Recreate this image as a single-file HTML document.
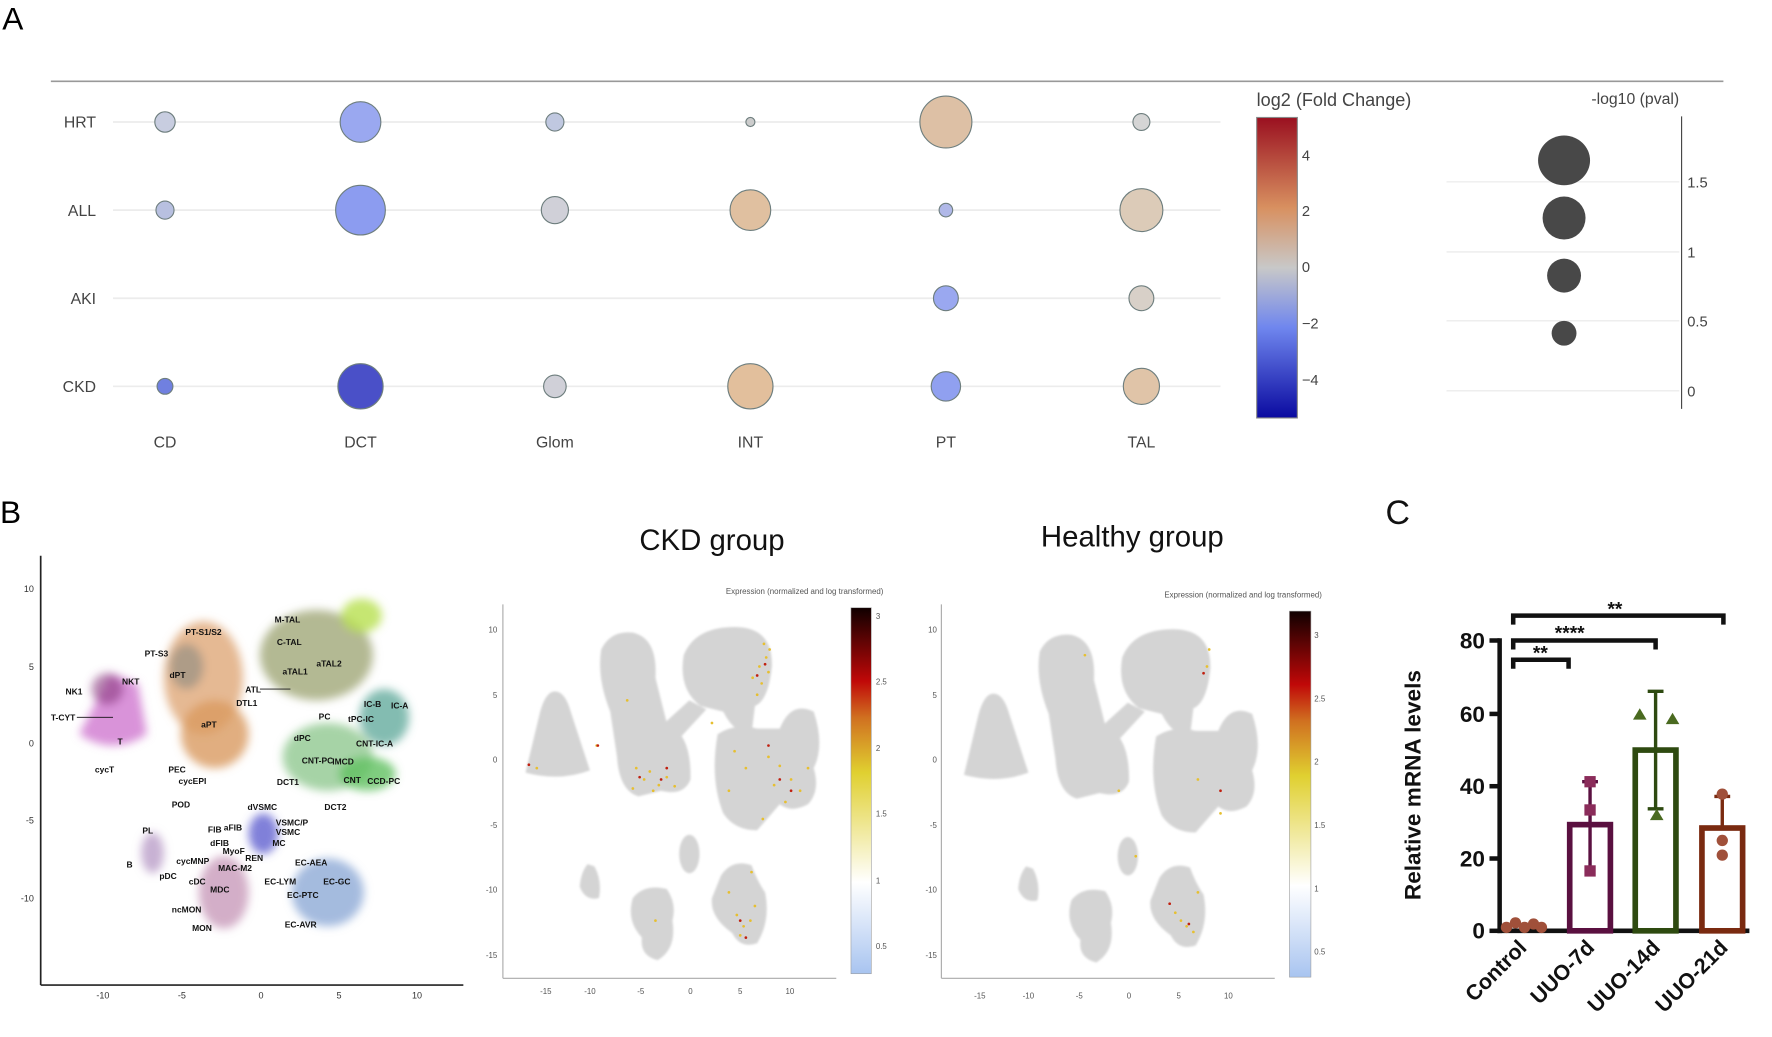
<!DOCTYPE html>
<html><head><meta charset="utf-8"><style>
html,body{margin:0;padding:0;background:#fff;}
svg{display:block;}
text{font-family:"Liberation Sans",sans-serif;}
</style></head><body>
<svg width="1772" height="1037" viewBox="0 0 1568 918" preserveAspectRatio="none" xmlns="http://www.w3.org/2000/svg">
<defs>
<linearGradient id="cw" x1="0" y1="1" x2="0" y2="0">
<stop offset="0" stop-color="#0a0aa0"/><stop offset="0.3" stop-color="#6f86ee"/><stop offset="0.5" stop-color="#c8c8c8"/><stop offset="0.7" stop-color="#d89060"/><stop offset="1" stop-color="#9a1020"/>
</linearGradient>
<linearGradient id="hot" x1="0" y1="1" x2="0" y2="0">
<stop offset="0" stop-color="#a8c4f0"/><stop offset="0.25" stop-color="#ffffff"/><stop offset="0.55" stop-color="#e0d030"/><stop offset="0.7" stop-color="#d07020"/><stop offset="0.8" stop-color="#c00808"/><stop offset="1" stop-color="#100000"/>
</linearGradient>
<filter id="bl" x="-50%" y="-50%" width="200%" height="200%"><feGaussianBlur stdDeviation="4"/></filter>
<filter id="sb" x="-10%" y="-10%" width="120%" height="120%"><feGaussianBlur stdDeviation="1"/></filter>
<g id="grey" fill="#d4d4d4" filter="url(#sb)">
<path d="M491 612 Q500 612 505 630 L522 682 Q495 692 465 684 L478 630 Q483 612 491 612Z"/>
<path d="M532 575 Q540 558 560 560 Q582 565 580 600 L590 640 Q612 650 611 690 Q605 705 585 700 L565 705 Q548 700 546 670 L540 630 Q528 600 532 575Z"/>
<path d="M605 580 Q615 555 650 555 Q684 555 683 590 Q680 620 668 625 L665 650 Q650 650 640 630 L620 625 Q600 610 605 580Z"/>
<path d="M588 640 L610 620 L625 628 L600 655Z"/>
<path d="M635 650 Q650 640 670 645 L690 645 Q700 620 720 630 Q730 660 720 680 Q726 700 715 712 Q700 720 690 712 L670 735 Q650 735 640 720 Q628 690 635 650Z"/>
<path d="M520 765 L526 767 Q533 780 530 795 Q518 798 513 785 Q514 772 520 765Z"/>
<path d="M560 795 Q570 782 590 787 Q599 800 595 815 Q599 840 582 850 Q566 846 568 830 Q554 815 560 795Z"/>
<ellipse cx="610" cy="756" rx="9" ry="17"/>
<path d="M638 775 Q648 760 665 766 Q670 780 677 790 Q682 815 670 835 Q655 840 648 826 Q628 812 630 795Z"/>
</g>
</defs>

<!-- Panel A -->
<text x="2" y="26" font-size="28">A</text>
<line x1="45" y1="72" x2="1525" y2="72" stroke="#999" stroke-width="1.5"/>
<g stroke="#ececec" stroke-width="1.5">
<line x1="100" y1="108" x2="1080" y2="108"/><line x1="100" y1="186" x2="1080" y2="186"/>
<line x1="100" y1="264" x2="1080" y2="264"/><line x1="100" y1="342" x2="1080" y2="342"/>
</g>
<g font-size="14" fill="#444" text-anchor="end">
<text x="85" y="113">HRT</text><text x="85" y="191">ALL</text><text x="85" y="269">AKI</text><text x="85" y="347">CKD</text>
</g>
<g font-size="14" fill="#444" text-anchor="middle">
<text x="146" y="396">CD</text><text x="319" y="396">DCT</text><text x="491" y="396">Glom</text><text x="664" y="396">INT</text><text x="837" y="396">PT</text><text x="1010" y="396">TAL</text>
</g>
<g stroke="#6e7e7e" stroke-width="1">
<circle cx="146" cy="108" r="9" fill="#c8cde0"/><circle cx="319" cy="108" r="18" fill="#9aa8f0"/><circle cx="491" cy="108" r="8" fill="#c0c8e0"/><circle cx="664" cy="108" r="4" fill="#ccc"/><circle cx="837" cy="108" r="23" fill="#ddc0a5"/><circle cx="1010" cy="108" r="7.5" fill="#d5d5d5"/>
<circle cx="146" cy="186" r="8" fill="#b8c0e0"/><circle cx="319" cy="186" r="22" fill="#8c9cf0"/><circle cx="491" cy="186" r="12" fill="#d0d0d8"/><circle cx="664" cy="186" r="18" fill="#e0c0a0"/><circle cx="837" cy="186" r="6" fill="#b0b8e8"/><circle cx="1010" cy="186" r="19" fill="#dccbb8"/>
<circle cx="837" cy="264" r="11" fill="#9aa8f0"/><circle cx="1010" cy="264" r="11" fill="#d8d0c8"/>
<circle cx="146" cy="342" r="7" fill="#7080e0"/><circle cx="319" cy="342" r="20" fill="#4a50c8"/><circle cx="491" cy="342" r="10" fill="#d0d0d8"/><circle cx="664" cy="342" r="20" fill="#e2bf9c"/><circle cx="837" cy="342" r="13" fill="#90a0f0"/><circle cx="1010" cy="342" r="16" fill="#e0c4a8"/>
</g>
<text x="1112" y="94" font-size="16" fill="#444">log2 (Fold Change)</text>
<rect x="1112" y="104" width="36" height="266" fill="url(#cw)" stroke="#888" stroke-width="1"/>
<g font-size="13" fill="#444">
<text x="1152" y="142">4</text><text x="1152" y="191">2</text><text x="1152" y="241">0</text><text x="1152" y="291">−2</text><text x="1152" y="341">−4</text>
</g>
<text x="1447" y="92" font-size="14" fill="#444" text-anchor="middle">-log10 (pval)</text>
<g stroke="#ececec" stroke-width="1.2">
<line x1="1280" y1="161" x2="1486" y2="161"/><line x1="1280" y1="223" x2="1486" y2="223"/><line x1="1280" y1="284" x2="1486" y2="284"/><line x1="1280" y1="346" x2="1486" y2="346"/>
</g>
<line x1="1488" y1="103" x2="1488" y2="362" stroke="#444"/>
<g font-size="13" fill="#444"><text x="1493" y="166">1.5</text><text x="1493" y="228">1</text><text x="1493" y="289">0.5</text><text x="1493" y="351">0</text></g>
<g fill="#484848"><ellipse cx="1384" cy="142" rx="23" ry="22"/><ellipse cx="1384" cy="193" rx="19" ry="19"/><ellipse cx="1384" cy="244" rx="15" ry="15"/><ellipse cx="1384" cy="295" rx="11" ry="11"/></g>

<!-- Panel B -->
<text x="0" y="463" font-size="28">B</text>
<line x1="36" y1="492" x2="36" y2="872" stroke="#222" stroke-width="1.5"/>
<line x1="36" y1="872" x2="410" y2="872" stroke="#222" stroke-width="1.5"/>
<g font-size="8" fill="#333" text-anchor="end"><text x="30" y="524">10</text><text x="30" y="593">5</text><text x="30" y="661">0</text><text x="30" y="729">-5</text><text x="30" y="798">-10</text></g>
<g font-size="8" fill="#333" text-anchor="middle"><text x="91" y="884">-10</text><text x="161" y="884">-5</text><text x="231" y="884">0</text><text x="300" y="884">5</text><text x="369" y="884">10</text></g>
<g filter="url(#bl)">
<path d="M98 596 L70 650 Q100 670 130 650 L122 605 Z" fill="#d078d0" opacity="0.8"/>
<ellipse cx="95" cy="610" rx="14" ry="14" fill="#8a3a80" opacity="0.6"/>
<ellipse cx="180" cy="600" rx="35" ry="50" fill="#dfa878" opacity="0.8"/>
<ellipse cx="190" cy="650" rx="30" ry="30" fill="#d99a60" opacity="0.8"/>
<ellipse cx="165" cy="590" rx="15" ry="20" fill="#8a8a80" opacity="0.6"/>
<ellipse cx="280" cy="580" rx="50" ry="40" fill="#a0a878" opacity="0.8"/>
<ellipse cx="320" cy="545" rx="18" ry="15" fill="#b8e050" opacity="0.8"/>
<ellipse cx="290" cy="670" rx="40" ry="30" fill="#90c890" opacity="0.8"/>
<ellipse cx="325" cy="685" rx="25" ry="15" fill="#60c060" opacity="0.8"/>
<ellipse cx="340" cy="635" rx="22" ry="25" fill="#50a090" opacity="0.7"/>
<ellipse cx="233" cy="738" rx="13" ry="18" fill="#6060d0" opacity="0.8"/>
<ellipse cx="290" cy="790" rx="32" ry="30" fill="#7d9ed0" opacity="0.7"/>
<ellipse cx="198" cy="790" rx="22" ry="32" fill="#c08cb0" opacity="0.7"/>
<ellipse cx="135" cy="755" rx="10" ry="18" fill="#b090c0" opacity="0.7"/>
</g>
<g font-size="7.5" font-weight="bold" fill="#111">
<text x="164" y="562">PT-S1/S2</text><text x="128" y="581">PT-S3</text><text x="150" y="600">dPT</text><text x="178" y="644">aPT</text>
<text x="243" y="551">M-TAL</text><text x="245" y="571">C-TAL</text><text x="250" y="597">aTAL1</text><text x="280" y="590">aTAL2</text>
<text x="217" y="613">ATL</text><text x="209" y="625">DTL1</text><text x="58" y="615">NK1</text><text x="108" y="606">NKT</text>
<text x="45" y="638">T-CYT</text><text x="104" y="659">T</text><text x="84" y="684">cycT</text><text x="149" y="684">PEC</text><text x="158" y="694">cycEPI</text>
<text x="322" y="626">IC-B</text><text x="346" y="627">IC-A</text><text x="308" y="639">tPC-IC</text><text x="282" y="637">PC</text><text x="315" y="661">CNT-IC-A</text>
<text x="260" y="656">dPC</text><text x="267" y="676">CNT-PC</text><text x="294" y="677">IMCD</text><text x="304" y="693">CNT</text><text x="325" y="694">CCD-PC</text>
<text x="245" y="695">DCT1</text><text x="287" y="717">DCT2</text><text x="152" y="715">POD</text><text x="219" y="717">dVSMC</text><text x="244" y="731">VSMC/P</text><text x="244" y="739">VSMC</text><text x="241" y="749">MC</text>
<text x="184" y="737">FIB</text><text x="198" y="735">aFIB</text><text x="186" y="749">dFIB</text><text x="197" y="756">MyoF</text><text x="217" y="762">REN</text>
<text x="126" y="738">PL</text><text x="112" y="768">B</text><text x="156" y="765">cycMNP</text><text x="193" y="771">MAC-M2</text><text x="141" y="778">pDC</text><text x="167" y="783">cDC</text><text x="186" y="790">MDC</text>
<text x="261" y="766">EC-AEA</text><text x="234" y="783">EC-LYM</text><text x="286" y="783">EC-GC</text><text x="254" y="795">EC-PTC</text><text x="152" y="808">ncMON</text><text x="170" y="824">MON</text><text x="252" y="821">EC-AVR</text>
</g>
<g stroke="#111" stroke-width="0.8"><line x1="68" y1="635" x2="100" y2="635"/><line x1="230" y1="610" x2="257" y2="610"/></g>

<text x="630" y="487" font-size="26" text-anchor="middle" fill="#111">CKD group</text>
<text x="1002" y="484" font-size="26" text-anchor="middle" fill="#111">Healthy group</text>

<!-- CKD plot -->
<text x="712" y="526" font-size="7" fill="#555" text-anchor="middle">Expression (normalized and log transformed)</text>
<line x1="445" y1="535" x2="445" y2="866" stroke="#aaa"/><line x1="445" y1="866" x2="740" y2="866" stroke="#aaa"/>
<g font-size="7" fill="#555" text-anchor="end"><text x="440" y="560">10</text><text x="440" y="618">5</text><text x="440" y="675">0</text><text x="440" y="733">-5</text><text x="440" y="790">-10</text><text x="440" y="848">-15</text></g>
<g font-size="7" fill="#555" text-anchor="middle"><text x="483" y="880">-15</text><text x="522" y="880">-10</text><text x="567" y="880">-5</text><text x="611" y="880">0</text><text x="655" y="880">5</text><text x="699" y="880">10</text></g>
<use href="#grey"/>
<rect x="753" y="538" width="18" height="324" fill="url(#hot)" stroke="#999" stroke-width="0.5"/>
<g font-size="7" fill="#555"><text x="775" y="548">3</text><text x="775" y="606">2.5</text><text x="775" y="665">2</text><text x="775" y="723">1.5</text><text x="775" y="782">1</text><text x="775" y="840">0.5</text></g>
<g fill="#e6bf30">
<circle cx="676" cy="570" r="1.2"/><circle cx="678" cy="582" r="1.2"/><circle cx="672" cy="590" r="1.2"/><circle cx="680" cy="595" r="1.2"/><circle cx="674" cy="605" r="1.2"/><circle cx="666" cy="600" r="1.2"/><circle cx="670" cy="615" r="1.2"/><circle cx="681" cy="575" r="1.2"/>
<circle cx="563" cy="680" r="1.2"/><circle cx="570" cy="690" r="1.2"/><circle cx="575" cy="683" r="1.2"/><circle cx="583" cy="695" r="1.2"/><circle cx="590" cy="688" r="1.2"/><circle cx="560" cy="698" r="1.2"/><circle cx="578" cy="700" r="1.2"/><circle cx="597" cy="696" r="1.2"/>
<circle cx="650" cy="665" r="1.2"/><circle cx="660" cy="680" r="1.2"/><circle cx="680" cy="670" r="1.2"/><circle cx="690" cy="678" r="1.2"/><circle cx="700" cy="690" r="1.2"/><circle cx="708" cy="700" r="1.2"/><circle cx="695" cy="710" r="1.2"/><circle cx="685" cy="695" r="1.2"/><circle cx="675" cy="725" r="1.2"/><circle cx="715" cy="680" r="1.2"/><circle cx="645" cy="700" r="1.2"/>
<circle cx="652" cy="810" r="1.2"/><circle cx="658" cy="820" r="1.2"/><circle cx="664" cy="815" r="1.2"/><circle cx="655" cy="828" r="1.2"/><circle cx="668" cy="802" r="1.2"/><circle cx="645" cy="790" r="1.2"/><circle cx="665" cy="772" r="1.2"/>
<circle cx="528" cy="660" r="1.2"/><circle cx="475" cy="680" r="1.2"/><circle cx="555" cy="620" r="1.2"/><circle cx="630" cy="640" r="1.2"/><circle cx="580" cy="815" r="1.2"/>
</g>
<g fill="#c02010">
<circle cx="670" cy="598" r="1.2"/><circle cx="677" cy="588" r="1.2"/><circle cx="566" cy="688" r="1.2"/><circle cx="585" cy="690" r="1.2"/><circle cx="690" cy="690" r="1.2"/><circle cx="700" cy="700" r="1.2"/><circle cx="660" cy="830" r="1.2"/><circle cx="655" cy="815" r="1.2"/><circle cx="529" cy="660" r="1.2"/><circle cx="468" cy="677" r="1.2"/><circle cx="680" cy="660" r="1.2"/><circle cx="590" cy="680" r="1.2"/>
</g>

<!-- Healthy plot -->
<text x="1100" y="529" font-size="7" fill="#555" text-anchor="middle">Expression (normalized and log transformed)</text>
<line x1="833" y1="535" x2="833" y2="866" stroke="#aaa"/><line x1="833" y1="866" x2="1128" y2="866" stroke="#aaa"/>
<g font-size="7" fill="#555" text-anchor="end"><text x="829" y="560">10</text><text x="829" y="618">5</text><text x="829" y="675">0</text><text x="829" y="733">-5</text><text x="829" y="790">-10</text><text x="829" y="848">-15</text></g>
<g font-size="7" fill="#555" text-anchor="middle"><text x="867" y="884">-15</text><text x="910" y="884">-10</text><text x="955" y="884">-5</text><text x="999" y="884">0</text><text x="1043" y="884">5</text><text x="1087" y="884">10</text></g>
<use href="#grey" transform="translate(388,2)"/>
<rect x="1141" y="541" width="19" height="324" fill="url(#hot)" stroke="#999" stroke-width="0.5"/>
<g font-size="7" fill="#555"><text x="1163" y="565">3</text><text x="1163" y="621">2.5</text><text x="1163" y="677">2</text><text x="1163" y="733">1.5</text><text x="1163" y="789">1</text><text x="1163" y="845">0.5</text></g>
<g fill="#e6c030"><circle cx="1045" cy="815" r="1.2"/><circle cx="1050" cy="820" r="1.2"/><circle cx="1056" cy="825" r="1.2"/><circle cx="1040" cy="808" r="1.2"/><circle cx="1060" cy="790" r="1.2"/><circle cx="1068" cy="590" r="1.2"/><circle cx="1070" cy="575" r="1.2"/><circle cx="960" cy="580" r="1.2"/><circle cx="990" cy="700" r="1.2"/><circle cx="1080" cy="720" r="1.2"/><circle cx="1060" cy="690" r="1.2"/><circle cx="1005" cy="758" r="1.2"/></g>
<g fill="#c02010"><circle cx="1052" cy="818" r="1.2"/><circle cx="1035" cy="800" r="1.2"/><circle cx="1065" cy="596" r="1.2"/><circle cx="1080" cy="700" r="1.2"/></g>

<!-- Panel C -->
<text x="1226" y="464" font-size="30" fill="#111">C</text>
<line x1="1327" y1="565" x2="1327" y2="826" stroke="#111" stroke-width="4"/>
<line x1="1325" y1="824" x2="1548" y2="824" stroke="#111" stroke-width="4"/>
<g stroke="#111" stroke-width="4"><line x1="1318" y1="567" x2="1327" y2="567"/><line x1="1318" y1="632" x2="1327" y2="632"/><line x1="1318" y1="696" x2="1327" y2="696"/><line x1="1318" y1="760" x2="1327" y2="760"/><line x1="1318" y1="824" x2="1327" y2="824"/></g>
<g font-size="20" font-weight="bold" fill="#111" text-anchor="end"><text x="1314" y="574">80</text><text x="1314" y="639">60</text><text x="1314" y="703">40</text><text x="1314" y="767">20</text><text x="1314" y="831">0</text></g>
<text transform="translate(1257,695) rotate(-90)" font-size="20" font-weight="bold" fill="#111" text-anchor="middle">Relative mRNA levels</text>
<g fill="none" stroke-width="5">
<rect x="1389" y="730" width="36" height="94" stroke="#5a1040"/>
<rect x="1447" y="664" width="36" height="160" stroke="#2e4a10"/>
<rect x="1506" y="733" width="36" height="91" stroke="#7a2a10"/>
</g>
<g stroke-width="3" fill="none">
<path d="M1407 730V692M1400 692h14M1407 730V770" stroke="#5a1040"/>
<path d="M1465 664V612M1458 612h14M1465 664V716M1458 716h14" stroke="#2e4a10"/>
<path d="M1524 733V705M1517 705h14" stroke="#7a2a10"/>
</g>
<g fill="#8a2c5a"><rect x="1402" y="687" width="10" height="10"/><rect x="1402" y="712" width="10" height="10"/><rect x="1402" y="766" width="10" height="10"/></g>
<g fill="#4a6a20"><polygon points="1451,627 1457,637 1445,637"/><polygon points="1480,631 1486,641 1474,641"/><polygon points="1466,716 1472,726 1460,726"/></g>
<g fill="#a0503a"><circle cx="1524" cy="703" r="5"/><circle cx="1524" cy="744" r="5"/><circle cx="1524" cy="757" r="5"/></g>
<g fill="#a0503a"><circle cx="1333" cy="821" r="5"/><circle cx="1341" cy="817" r="5"/><circle cx="1349" cy="821" r="5"/><circle cx="1357" cy="818" r="5"/><circle cx="1364" cy="821" r="5"/></g>
<g stroke="#111" stroke-width="4" fill="none">
<path d="M1339 592V584H1388V592"/>
<path d="M1339 575V567H1465V575"/>
<path d="M1339 553V545H1525V553"/>
</g>
<g font-size="17" font-weight="bold" fill="#111" text-anchor="middle"><text x="1363" y="584">**</text><text x="1389" y="566">****</text><text x="1429" y="545">**</text></g>
<g font-size="19" font-weight="bold" fill="#111" text-anchor="end">
<text transform="translate(1352,840) rotate(-45)">Control</text>
<text transform="translate(1412,840) rotate(-45)">UUO-7d</text>
<text transform="translate(1470,840) rotate(-45)">UUO-14d</text>
<text transform="translate(1530,840) rotate(-45)">UUO-21d</text>
</g>
</svg>
</body></html>
